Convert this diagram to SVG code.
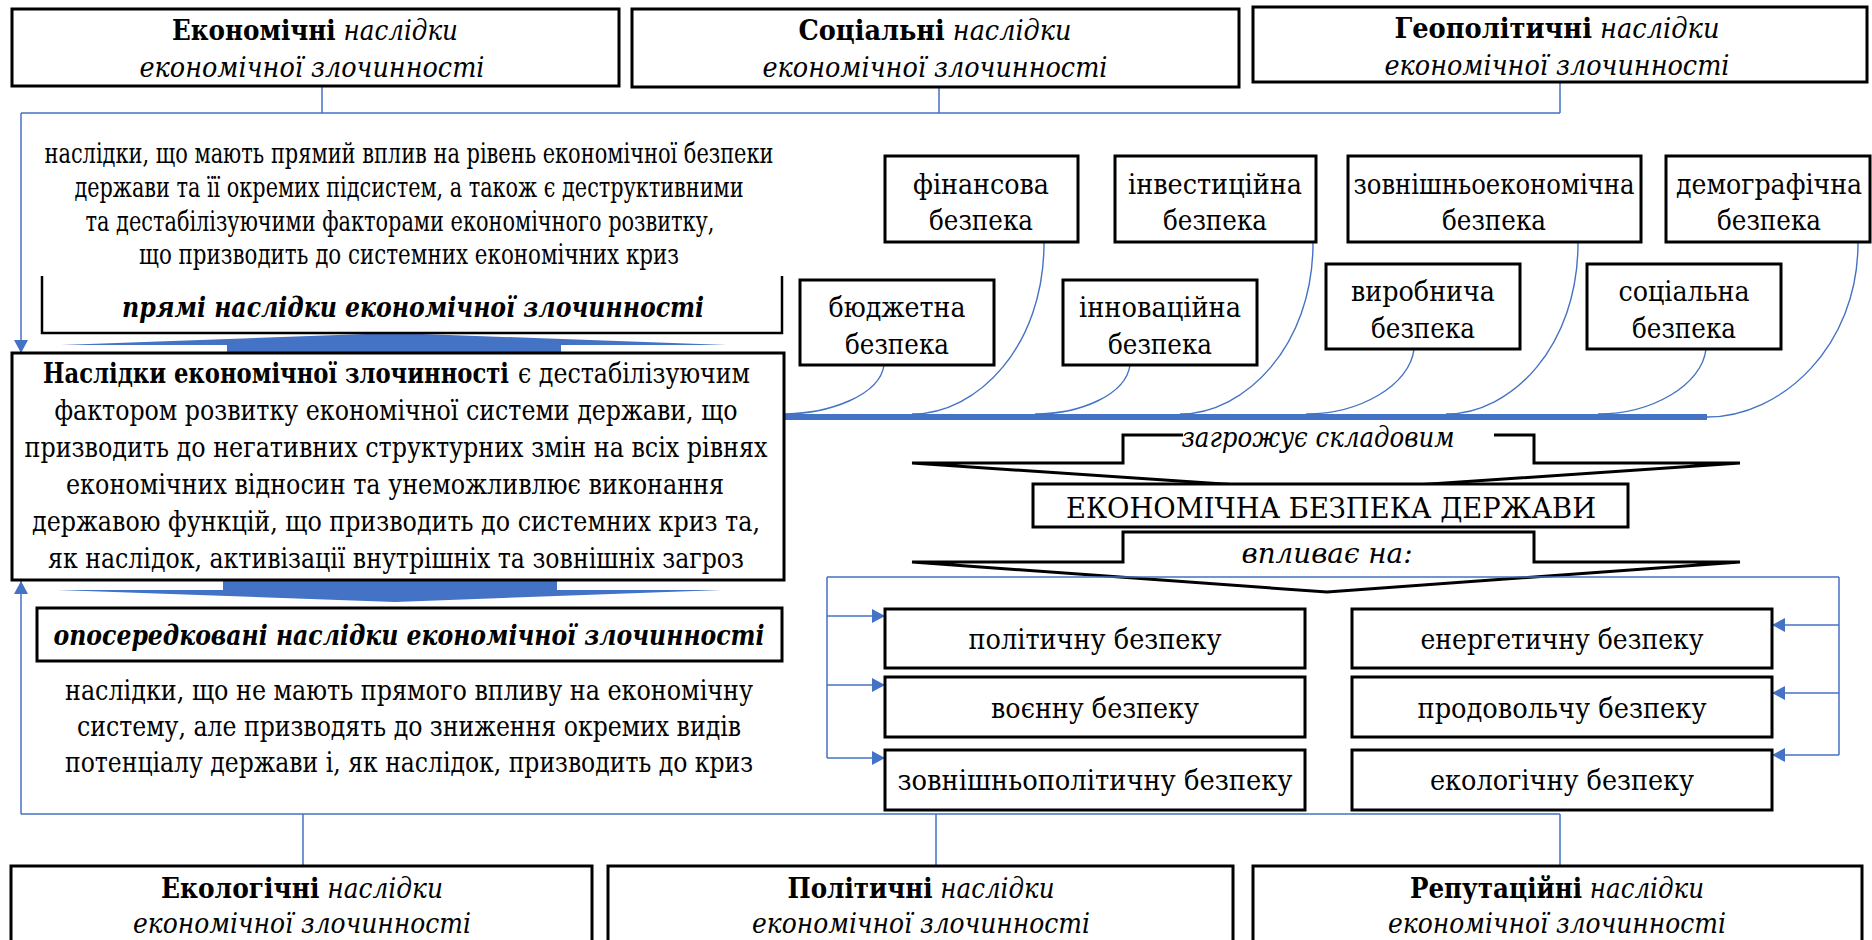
<svg xmlns="http://www.w3.org/2000/svg" width="1872" height="940" viewBox="0 0 1872 940">
<defs>
<style>
.bx{fill:#fff;stroke:#000;stroke-width:3}
.t{font-family:'DejaVu Serif Condensed','DejaVu Serif','Liberation Serif',serif;font-stretch:condensed;font-size:28px;fill:#000;text-anchor:middle}
.s{text-anchor:start}
.e{text-anchor:end}
.b{font-weight:bold}
.i{font-style:italic}
.bl{fill:none;stroke:#4472C4;stroke-width:1.5}
.cv{fill:none;stroke:#4472C4;stroke-width:1.4}
.blk{fill:#4472C4}
.ar{fill:#fff;stroke:#000;stroke-width:3;stroke-linejoin:miter}
.brk{fill:none;stroke:#000;stroke-width:2.5}
</style>
<marker id="ah" markerWidth="14" markerHeight="14" refX="13" refY="7" orient="auto" markerUnits="userSpaceOnUse"><path d="M0,0 L13,7 L0,14 z" fill="#4472C4"/></marker>
</defs>
<rect width="1872" height="940" fill="#fff"/>

<g id="block-arrows">
<polygon class="blk" points="227,356 227,345 61,345 394,333 727,345 561,345 561,356"/>
<polygon class="blk" points="223,578 557,578 557,590 722,590 395,602 57,590 223,590"/>
<path class="ar" d="M1123,435 H1534 V463 H1740 L1327,491 L912,463 H1123 Z"/>
<rect x="1183" y="427" width="311" height="16" fill="#fff"/>
<text class="t i" x="1318" y="447" textLength="273" lengthAdjust="spacingAndGlyphs">загрожує складовим</text>
<path class="ar" d="M1123,532 H1534 V562 H1740 L1327,592 L912,562 H1123 Z"/>
<text class="t i" x="1327" y="563" textLength="171" lengthAdjust="spacingAndGlyphs">впливає на:</text>
</g>

<g id="connectors">
<path class="bl" d="M322,86 V113 M939,87 V113 M1560,82 V113 M21,113 H1560"/>
<path class="bl" d="M21,113 V353" marker-end="url(#ah)"/>
<path class="bl" d="M21,814 H1560 M303,814 V866 M936,814 V866 M1560,814 V866"/>
<path class="bl" d="M21,814 V581" marker-end="url(#ah)"/>
<path class="bl" d="M827,577 H1839 M827,577 V758 M1839,577 V755"/>
<path class="bl" d="M827,616 H885" marker-end="url(#ah)"/>
<path class="bl" d="M827,685 H885" marker-end="url(#ah)"/>
<path class="bl" d="M827,758 H885" marker-end="url(#ah)"/>
<path class="bl" d="M1839,625 H1772" marker-end="url(#ah)"/>
<path class="bl" d="M1839,693 H1772" marker-end="url(#ah)"/>
<path class="bl" d="M1839,755 H1772" marker-end="url(#ah)"/>
<path d="M784,417 H1707" stroke="#4472C4" stroke-width="6" fill="none"/>
<path class="cv" d="M884,365 C880,395 830,414 782,414"/>
<path class="cv" d="M1044,243 C1044,346 978,414 912,414"/>
<path class="cv" d="M1130,365 C1126,395 1080,414 1035,414"/>
<path class="cv" d="M1313,243 C1313,346 1245,414 1180,414"/>
<path class="cv" d="M1414,349 C1410,385 1360,414 1306,414"/>
<path class="cv" d="M1578,243 C1578,346 1512,414 1446,414"/>
<path class="cv" d="M1706,349 C1702,385 1652,414 1598,414"/>
<path class="cv" d="M1858,243 C1858,346 1782,417 1707,417"/>
</g>

<g id="top-economic">
<rect class="bx" x="12" y="9" width="607" height="77"/>
<text class="t" x="315" y="40" textLength="286" lengthAdjust="spacingAndGlyphs"><tspan class="b">Економічні</tspan><tspan class="i"> наслідки</tspan></text>
<text class="t i" x="312" y="77" textLength="345" lengthAdjust="spacingAndGlyphs">економічної злочинності</text>
</g>
<g id="top-social">
<rect class="bx" x="632" y="9" width="607" height="78"/>
<text class="t" x="935" y="40" textLength="273" lengthAdjust="spacingAndGlyphs"><tspan class="b">Соціальні</tspan><tspan class="i"> наслідки</tspan></text>
<text class="t i" x="935" y="77" textLength="345" lengthAdjust="spacingAndGlyphs">економічної злочинності</text>
</g>
<g id="top-geopolitical">
<rect class="bx" x="1253" y="7" width="614" height="75"/>
<text class="t" x="1557" y="38" textLength="325" lengthAdjust="spacingAndGlyphs"><tspan class="b">Геополітичні</tspan><tspan class="i"> наслідки</tspan></text>
<text class="t i" x="1557" y="75" textLength="345" lengthAdjust="spacingAndGlyphs">економічної злочинності</text>
</g>

<g id="direct-text">
<text class="t" x="409" y="163" font-size="27" textLength="729" lengthAdjust="spacingAndGlyphs">наслідки, що мають прямий вплив на рівень економічної безпеки</text>
<text class="t" x="409" y="197" font-size="27" textLength="669" lengthAdjust="spacingAndGlyphs">держави та її окремих підсистем, а також є деструктивними</text>
<text class="t" x="400" y="231" font-size="27" textLength="629" lengthAdjust="spacingAndGlyphs">та дестабілізуючими факторами економічного розвитку,</text>
<text class="t" x="409" y="264" font-size="27" textLength="540" lengthAdjust="spacingAndGlyphs">що призводить до системних економічних криз</text>
</g>
<g id="direct-label">
<path class="brk" d="M42,276 V333 H782 V276"/>
<text class="t b i" x="413" y="317" textLength="582" lengthAdjust="spacingAndGlyphs">прямі наслідки економічної злочинності</text>
</g>

<g id="main">
<rect class="bx" x="12" y="353" width="772" height="227"/>
<text class="t e b" x="509" y="383" textLength="466" lengthAdjust="spacingAndGlyphs">Наслідки економічної злочинності</text>
<text class="t s" x="518" y="383" textLength="232" lengthAdjust="spacingAndGlyphs">є дестабілізуючим</text>
<text class="t" x="396" y="420" textLength="683" lengthAdjust="spacingAndGlyphs">фактором розвитку економічної системи держави, що</text>
<text class="t" x="396" y="457" textLength="743" lengthAdjust="spacingAndGlyphs">призводить до негативних структурних змін на всіх рівнях</text>
<text class="t" x="395" y="494" textLength="658" lengthAdjust="spacingAndGlyphs">економічних відносин та унеможливлює виконання</text>
<text class="t" x="396" y="531" textLength="728" lengthAdjust="spacingAndGlyphs">державою функцій, що призводить до системних криз та,</text>
<text class="t" x="396" y="568" textLength="696" lengthAdjust="spacingAndGlyphs">як наслідок, активізації внутрішніх та зовнішніх загроз</text>
</g>

<g id="indirect-label">
<rect class="bx" x="37" y="608" width="745" height="53" stroke-width="2.5"/>
<text class="t b i" x="409" y="645" textLength="711" lengthAdjust="spacingAndGlyphs">опосередковані наслідки економічної злочинності</text>
</g>
<g id="indirect-text">
<text class="t" x="409" y="700" textLength="688" lengthAdjust="spacingAndGlyphs">наслідки, що не мають прямого впливу на економічну</text>
<text class="t" x="409" y="736" textLength="664" lengthAdjust="spacingAndGlyphs">систему, але призводять до зниження окремих видів</text>
<text class="t" x="409" y="772" textLength="688" lengthAdjust="spacingAndGlyphs">потенціалу держави і, як наслідок, призводить до криз</text>
</g>

<g id="sec-financial"><rect class="bx" x="885" y="156" width="193" height="86"/><text class="t" x="981" y="194" textLength="136" lengthAdjust="spacingAndGlyphs">фінансова</text><text class="t" x="981" y="230" textLength="104" lengthAdjust="spacingAndGlyphs">безпека</text></g>
<g id="sec-investment"><rect class="bx" x="1115" y="156" width="201" height="86"/><text class="t" x="1215" y="194" textLength="174" lengthAdjust="spacingAndGlyphs">інвестиційна</text><text class="t" x="1215" y="230" textLength="104" lengthAdjust="spacingAndGlyphs">безпека</text></g>
<g id="sec-foreign-econ"><rect class="bx" x="1348" y="156" width="293" height="86"/><text class="t" x="1494" y="194" textLength="281" lengthAdjust="spacingAndGlyphs">зовнішньоекономічна</text><text class="t" x="1494" y="230" textLength="104" lengthAdjust="spacingAndGlyphs">безпека</text></g>
<g id="sec-demographic"><rect class="bx" x="1666" y="156" width="204" height="86"/><text class="t" x="1769" y="194" textLength="186" lengthAdjust="spacingAndGlyphs">демографічна</text><text class="t" x="1769" y="230" textLength="104" lengthAdjust="spacingAndGlyphs">безпека</text></g>
<g id="sec-budget"><rect class="bx" x="800" y="280" width="194" height="85"/><text class="t" x="897" y="317" textLength="137" lengthAdjust="spacingAndGlyphs">бюджетна</text><text class="t" x="897" y="354" textLength="104" lengthAdjust="spacingAndGlyphs">безпека</text></g>
<g id="sec-innovation"><rect class="bx" x="1063" y="280" width="194" height="85"/><text class="t" x="1160" y="317" textLength="162" lengthAdjust="spacingAndGlyphs">інноваційна</text><text class="t" x="1160" y="354" textLength="104" lengthAdjust="spacingAndGlyphs">безпека</text></g>
<g id="sec-production"><rect class="bx" x="1326" y="264" width="194" height="85"/><text class="t" x="1423" y="301" textLength="144" lengthAdjust="spacingAndGlyphs">виробнича</text><text class="t" x="1423" y="338" textLength="104" lengthAdjust="spacingAndGlyphs">безпека</text></g>
<g id="sec-social"><rect class="bx" x="1587" y="264" width="194" height="85"/><text class="t" x="1684" y="301" textLength="131" lengthAdjust="spacingAndGlyphs">соціальна</text><text class="t" x="1684" y="338" textLength="104" lengthAdjust="spacingAndGlyphs">безпека</text></g>

<g id="econ-security">
<rect class="bx" x="1033" y="484" width="595" height="43"/>
<text class="t" x="1331" y="518" font-size="30" textLength="530" lengthAdjust="spacingAndGlyphs">ЕКОНОМІЧНА БЕЗПЕКА ДЕРЖАВИ</text>
</g>

<g id="political"><rect class="bx" x="885" y="609" width="420" height="59"/><text class="t" x="1095" y="649" textLength="253" lengthAdjust="spacingAndGlyphs">політичну безпеку</text></g>
<g id="military"><rect class="bx" x="885" y="677" width="420" height="60"/><text class="t" x="1095" y="718" textLength="208" lengthAdjust="spacingAndGlyphs">воєнну безпеку</text></g>
<g id="foreign-political"><rect class="bx" x="885" y="750" width="420" height="60"/><text class="t" x="1095" y="790" textLength="395" lengthAdjust="spacingAndGlyphs">зовнішньополітичну безпеку</text></g>
<g id="energy"><rect class="bx" x="1352" y="609" width="420" height="59"/><text class="t" x="1562" y="649" textLength="283" lengthAdjust="spacingAndGlyphs">енергетичну безпеку</text></g>
<g id="food"><rect class="bx" x="1352" y="677" width="420" height="60"/><text class="t" x="1562" y="718" textLength="289" lengthAdjust="spacingAndGlyphs">продовольчу безпеку</text></g>
<g id="ecological-sec"><rect class="bx" x="1352" y="750" width="420" height="60"/><text class="t" x="1562" y="790" textLength="264" lengthAdjust="spacingAndGlyphs">екологічну безпеку</text></g>

<g id="bottom-ecological">
<rect class="bx" x="11" y="866" width="581" height="90"/>
<text class="t" x="302" y="898" textLength="282" lengthAdjust="spacingAndGlyphs"><tspan class="b">Екологічні</tspan><tspan class="i"> наслідки</tspan></text>
<text class="t i" x="302" y="933" textLength="338" lengthAdjust="spacingAndGlyphs">економічної злочинності</text>
</g>
<g id="bottom-political">
<rect class="bx" x="608" y="866" width="625" height="90"/>
<text class="t" x="921" y="898" textLength="267" lengthAdjust="spacingAndGlyphs"><tspan class="b">Політичні</tspan><tspan class="i"> наслідки</tspan></text>
<text class="t i" x="921" y="933" textLength="338" lengthAdjust="spacingAndGlyphs">економічної злочинності</text>
</g>
<g id="bottom-reputational">
<rect class="bx" x="1253" y="866" width="609" height="90"/>
<text class="t" x="1557" y="898" textLength="294" lengthAdjust="spacingAndGlyphs"><tspan class="b">Репутаційні</tspan><tspan class="i"> наслідки</tspan></text>
<text class="t i" x="1557" y="933" textLength="338" lengthAdjust="spacingAndGlyphs">економічної злочинності</text>
</g>
</svg>
